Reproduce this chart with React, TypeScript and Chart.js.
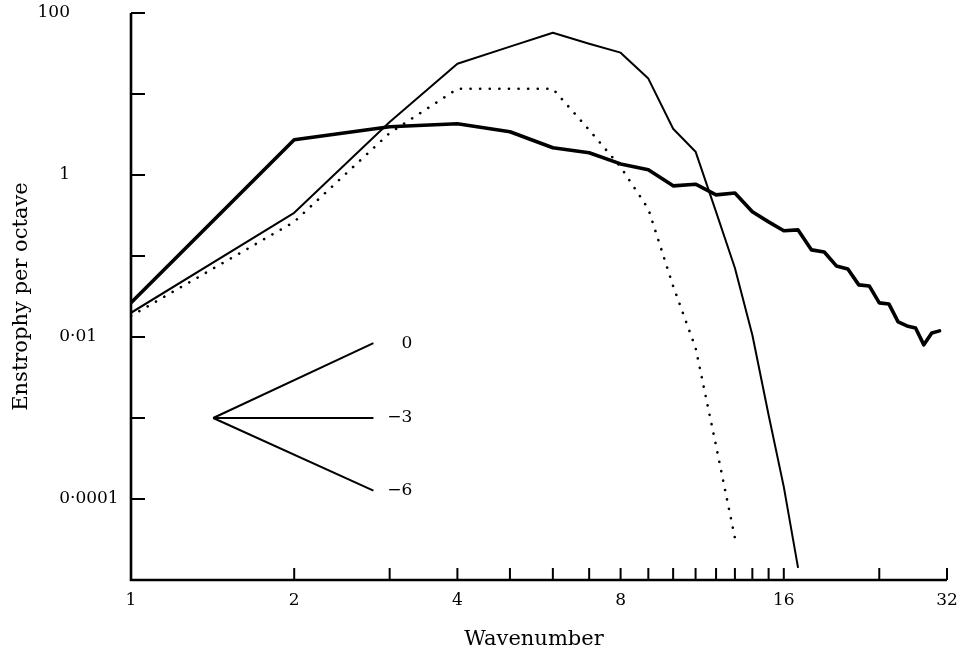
import React, { useEffect, useRef } from 'react';
import { Chart, registerables } from 'chart.js';

Chart.register(...registerables);

// Wavenumbers and enstrophy-per-octave values
const thickK = [1, 2, 3, 4, 5, 6, 7, 8, 9, 10, 11, 12, 13, 14, 15, 16, 17, 18, 19, 20, 21, 22, 23, 24, 25, 26, 27, 28, 29, 30, 31];
const thickValues = [0.0264, 2.72, 3.94, 4.29, 3.42, 2.17, 1.88, 1.37, 1.16, 0.735, 0.77, 0.569, 0.6, 0.351, 0.264, 0.205, 0.21, 0.119, 0.112, 0.0755, 0.0693, 0.044, 0.0427, 0.0264, 0.0256, 0.0154, 0.0137, 0.0129, 0.008, 0.0112, 0.0119];

const thinK = [1, 2, 3, 4, 5, 6, 7, 8, 9, 10, 11, 12, 13, 14, 15, 16, 17];
const thinValues = [0.0199, 0.341, 4.5, 23.6, 38.5, 57, 41.8, 32.4, 15.5, 3.72, 1.94, 0.35, 0.071, 0.0106, 0.00109, 0.000141, 0.0000141];

const dottedK = [1, 2, 3, 4, 5, 6, 7, 8, 9, 10, 11, 12, 13];
const dottedValues = [0.0182, 0.264, 3.3, 11.6, 11.6, 11.6, 3.6, 1.26, 0.381, 0.0425, 0.00734, 0.000452, 0.000033];

// Slope indicator (energy spectrum slopes)
const slopeStartK = 1.418;
const slopeStartValue = 0.001;
const slopeEndK = 2.8;
const slopeEndValues = [0.00838, 0.001, 0.000127];
const slopeLabels = ['0', '\u22123', '\u22126'];

// Axes
const xMin = 1;
const xMax = 32;
const yMin = 1e-5;
const yMax = 100;
const xTickValues = [2, 3, 4, 5, 6, 7, 8, 9, 10, 11, 12, 13, 14, 15, 16, 24, 32];
const xLabelValues = [1, 2, 4, 8, 16, 32];
const xLabels = ['1', '2', '4', '8', '16', '32'];
const yTickValues = [100, 10, 1, 0.1, 0.01, 0.001, 0.0001];
const yLabelValues = [100, 1, 0.01, 0.0001];
const yLabels = ['100', '1', '0\u00b701', '0\u00b70001'];
const xTitle = 'Wavenumber';
const yTitle = 'Enstrophy per octave';

const FONT = '"DejaVu Serif", "Liberation Serif", serif';

const axisPlugin = {
  id: 'axisDecor',
  afterDraw(chart: any) {
    const { ctx, chartArea: a } = chart;
    const xs = chart.scales.x;
    const ys = chart.scales.y;
    ctx.save();
    ctx.strokeStyle = '#000';
    ctx.fillStyle = '#000';

    // axis lines
    ctx.lineWidth = 2.6;
    ctx.lineCap = 'butt';
    ctx.lineJoin = 'miter';
    const top = ys.getPixelForValue(yMax);
    const right = xs.getPixelForValue(xMax);
    ctx.beginPath();
    ctx.moveTo(a.left, top);
    ctx.lineTo(a.left, a.bottom);
    ctx.lineTo(right, a.bottom);
    ctx.stroke();

    // inward tick marks
    ctx.lineWidth = 2;
    ctx.beginPath();
    xTickValues.forEach((v) => {
      const p = xs.getPixelForValue(v);
      ctx.moveTo(p, a.bottom);
      ctx.lineTo(p, a.bottom - 12);
    });
    yTickValues.forEach((v) => {
      const p = ys.getPixelForValue(v);
      ctx.moveTo(a.left, p);
      ctx.lineTo(a.left + 14, p);
    });
    ctx.stroke();

    // x tick labels
    ctx.font = `17px ${FONT}`;
    ctx.textAlign = 'center';
    ctx.textBaseline = 'alphabetic';
    xLabelValues.forEach((v, i) => {
      ctx.fillText(xLabels[i], xs.getPixelForValue(v), a.bottom + 25);
    });

    // y tick labels, aligned on the decimal point
    ctx.textBaseline = 'middle';
    yLabelValues.forEach((v, i) => {
      const p = ys.getPixelForValue(v);
      const parts = yLabels[i].split('\u00b7');
      ctx.textAlign = 'right';
      ctx.fillText(parts[0], 70, p);
      if (parts.length > 1) {
        ctx.textAlign = 'left';
        ctx.fillText('\u00b7' + parts[1], 70, p);
      }
    });

    // slope labels
    ctx.textAlign = 'right';
    slopeEndValues.forEach((v, i) => {
      ctx.fillText(slopeLabels[i], xs.getPixelForValue(slopeEndK) + 39, ys.getPixelForValue(v));
    });

    // axis titles
    ctx.font = `21px ${FONT}`;
    ctx.textAlign = 'center';
    ctx.textBaseline = 'alphabetic';
    ctx.fillText(xTitle, 534, 645);
    ctx.save();
    ctx.translate(22, (a.top + a.bottom) / 2);
    ctx.rotate(-Math.PI / 2);
    ctx.textBaseline = 'middle';
    ctx.fillText(yTitle, 0, 0);
    ctx.restore();

    ctx.restore();
  },
};

export default function App() {
  const ref = useRef<HTMLCanvasElement>(null);

  useEffect(() => {
    document.body.style.margin = '0';
    const canvas = ref.current;
    if (!canvas) return;
    const toPts = (ks: number[], vs: number[]) => ks.map((k, i) => ({ x: k, y: vs[i] }));
    const base = {
      borderColor: '#000',
      backgroundColor: '#000',
      pointRadius: 0,
      tension: 0,
      fill: false,
    };
    const chart = new Chart(canvas, {
      type: 'line',
      data: {
        datasets: [
          { ...base, label: 'thick', data: toPts(thickK, thickValues), borderWidth: 3.6, borderJoinStyle: 'round', borderCapStyle: 'round' },
          { ...base, label: 'thin', data: toPts(thinK, thinValues), borderWidth: 2, borderJoinStyle: 'round' },
          { ...base, label: 'dotted', data: toPts(dottedK, dottedValues), borderWidth: 2.6, borderDash: [0.1, 9.5], borderCapStyle: 'round' },
          ...slopeEndValues.map((v, i) => ({
            ...base,
            label: 'slope ' + slopeLabels[i],
            data: [{ x: slopeStartK, y: slopeStartValue }, { x: slopeEndK, y: v }],
            borderWidth: 2,
          })),
        ],
      },
      options: {
        responsive: false,
        animation: false,
        devicePixelRatio: 1,
        layout: { padding: { left: 131, right: 17, top: 13, bottom: 70 } },
        plugins: { legend: { display: false }, tooltip: { enabled: false } },
        scales: {
          x: { type: 'logarithmic', min: xMin, max: xMax, display: false },
          y: { type: 'logarithmic', min: yMin, max: yMax, display: false },
        },
      },
      plugins: [axisPlugin],
    } as any);
    return () => chart.destroy();
  }, []);

  return <canvas ref={ref} width={964} height={650} style={{ display: 'block' }} />;
}
